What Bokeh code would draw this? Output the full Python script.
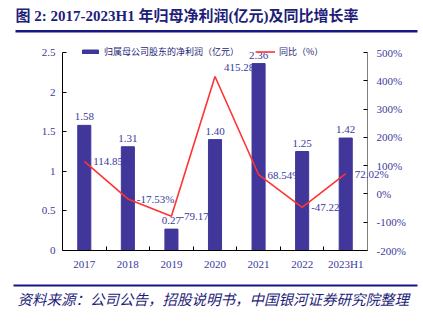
from bokeh.plotting import figure
from bokeh.models import (Range1d, LinearAxis, FixedTicker, Label, BoxAnnotation,
                          Legend, LegendItem, ColumnDataSource, LabelSet)
from bokeh.core.properties import value
from bokeh.embed import file_html
from bokeh.resources import INLINE

years = ["2017", "2018", "2019", "2020", "2021", "2022", "2023H1"]
profit = [1.58, 1.31, 0.27, 1.40, 2.36, 1.25, 1.42]
yoy = [114.85, -17.53, -79.17, 415.28, 68.54, -47.22, 72.02]
left_ticks = [0, 0.5, 1, 1.5, 2, 2.5]
right_ticks = [-200, -100, 0, 100, 200, 300, 400, 500]
title_text = "图 2: 2017-2023H1 年归母净利润(亿元)及同比增长率"
source_text = "资料来源：公司公告，招股说明书，中国银河证券研究院整理"
bar_name = "归属母公司股东的净利润（亿元）"
line_name = "同比（%）"

NAVY = "#1E1E78"
LABEL_C = "#3A3A9C"
BAR_C = "#41369A"
RED = "#FF3333"
SERIF = "Liberation Serif, Noto Sans CJK SC"
CJK = "Noto Sans CJK SC"

W, H = 423, 322
# frame of the plotting area in canvas pixels
FL, FR, FT, FB = 62, 367, 52, 250

n = len(years)
ymin, ymax = left_ticks[0], left_ticks[-1]
pmin, pmax = right_ticks[0], right_ticks[-1]

sx = (FR - FL) / n
sy = (FB - FT) / (ymax - ymin)
sp = (FB - FT) / (pmax - pmin)
x_range = Range1d(-FL / sx, n + (W - FR) / sx)
y_range = Range1d(ymin - (H - FB) / sy, ymax + FT / sy)
pct_range = Range1d(pmin - (H - FB) / sp, pmax + FT / sp)


def cx(px):
    return x_range.start + px / sx


def cy(py):
    return y_range.end - py / sy


xs = [i + 0.5 for i in range(n)]
yoy_dy = [9 if v == max(yoy) else 0 for v in yoy]

src = ColumnDataSource(dict(
    x=xs, profit=profit, yoy=yoy,
    plab=[f"{v:.2f}" for v in profit],
    ylab=[f"{v:.2f}%" for v in yoy],
    dy=yoy_dy,
))

p = figure(width=W, height=H, x_range=x_range, y_range=y_range,
           output_backend="svg", toolbar_location=None,
           min_border=0, min_border_left=0, min_border_right=0,
           min_border_top=0, min_border_bottom=0)
p.extra_y_ranges = {"pct": pct_range}
p.xgrid.visible = False
p.ygrid.visible = False
p.outline_line_color = None
p.background_fill_color = "white"
p.border_fill_color = "white"

# bottom axis
xa = p.xaxis[0]
xa.fixed_location = ymin
xa.bounds = (0, n)
xa.ticker = FixedTicker(ticks=xs, minor_ticks=list(range(1, n)))
xa.major_label_overrides = {x: y for x, y in zip(xs, years)}
xa.major_tick_in = 0
xa.major_tick_out = 0
xa.minor_tick_in = 4
xa.minor_tick_out = 0
xa.axis_line_color = "black"
xa.major_label_text_font = SERIF
xa.major_label_text_font_size = "11px"
xa.major_label_text_color = LABEL_C
xa.major_label_standoff = 7

# left axis
ya = p.yaxis[0]
ya.fixed_location = 0
ya.bounds = (ymin, ymax)
ya.ticker = FixedTicker(ticks=left_ticks)
ya.major_label_overrides = {t: f"{t:g}" for t in left_ticks}
ya.major_tick_in = 4
ya.major_tick_out = 0
ya.minor_tick_in = 0
ya.minor_tick_out = 0
ya.axis_line_color = "black"
ya.major_label_text_font = SERIF
ya.major_label_text_font_size = "11px"
ya.major_label_text_color = LABEL_C
ya.major_label_standoff = 7

# right axis
ra = LinearAxis(y_range_name="pct", ticker=FixedTicker(ticks=right_ticks))
ra.fixed_location = n
ra.bounds = (pmin, pmax)
ra.major_label_overrides = {t: f"{t}%" for t in right_ticks}
ra.major_tick_in = 4
ra.major_tick_out = 0
ra.minor_tick_in = 0
ra.minor_tick_out = 0
ra.axis_line_color = "#7F7F7F"
ra.major_tick_line_color = "black"
ra.major_label_text_font = SERIF
ra.major_label_text_font_size = "11px"
ra.major_label_text_color = LABEL_C
ra.major_label_standoff = 9
p.add_layout(ra, "right")

bars = p.vbar(x="x", top="profit", width=0.3, source=src, fill_color=BAR_C, line_color=BAR_C)
line = p.line(x="x", y="yoy", source=src, y_range_name="pct", line_color=RED, line_width=1.6)

p.add_layout(LabelSet(x="x", y="profit", text="plab", source=src, y_offset=5,
                      text_align="center", text_baseline="bottom",
                      text_font=value(SERIF), text_font_size="11px", text_color=LABEL_C))
p.add_layout(LabelSet(x="x", y="yoy", text="ylab", source=src, y_range_name="pct",
                      x_offset=9, y_offset="dy",
                      text_align="left", text_baseline="middle",
                      text_font=value(SERIF), text_font_size="11px", text_color=LABEL_C))

legend = Legend(items=[LegendItem(label=bar_name, renderers=[bars]),
                       LegendItem(label=line_name, renderers=[line])],
                orientation="horizontal", location=(80, H - 52 - 6),
                padding=0, margin=0, spacing=16, glyph_width=20, glyph_height=5,
                label_standoff=4, label_height=10,
                label_text_font=CJK, label_text_font_size="9px", label_text_color=NAVY,
                background_fill_alpha=0, border_line_color=None)
p.add_layout(legend, "center")

# title and source
p.add_layout(Label(x=cx(15), y=cy(15), text=title_text,
                   text_font=SERIF, text_font_size="15px", text_font_style="bold",
                   text_color=NAVY, text_baseline="middle", text_align="left"))
p.add_layout(BoxAnnotation(left=cx(15), right=cx(417), top=cy(29.5), bottom=cy(32),
                           fill_color="#16167F", fill_alpha=1, line_color=None))
p.add_layout(BoxAnnotation(left=cx(13), right=cx(417), top=cy(284), bottom=cy(286),
                           fill_color="#16167F", fill_alpha=1, line_color=None))
p.add_layout(Label(x=cx(17), y=cy(298), text=source_text,
                   text_font=CJK, text_font_size="14.5px", text_font_style="italic",
                   text_color=NAVY, text_baseline="middle", text_align="left"))

open("out.html", "w").write(file_html(p, INLINE))
